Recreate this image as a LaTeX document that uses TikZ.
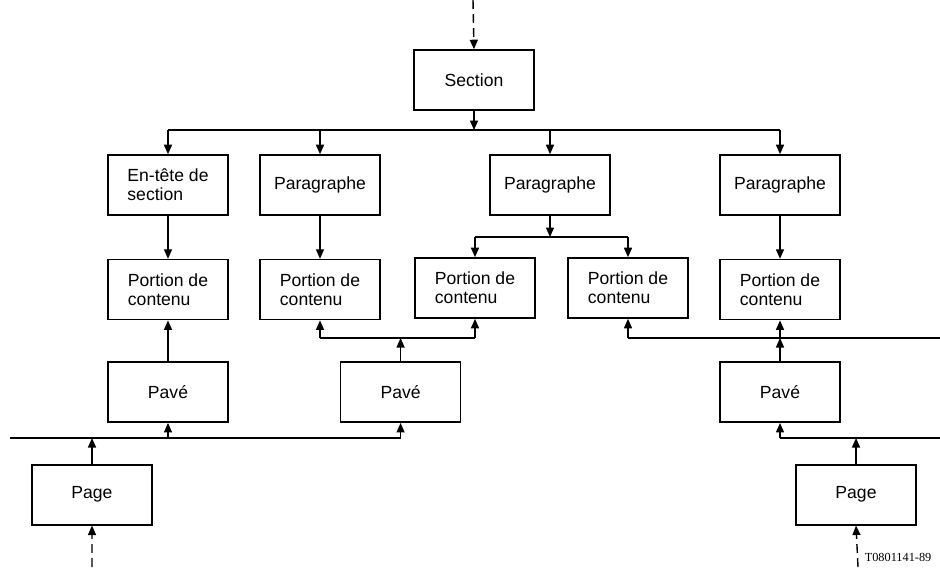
\documentclass[tikz,border=0pt]{standalone}
\usepackage{fontspec}
\setmainfont{Liberation Sans}
\newfontfamily\codefont{Liberation Serif}
\usetikzlibrary{arrows.meta, positioning}

\begin{document}
\begin{tikzpicture}[
    >={Triangle[length=1.9mm, width=1.6mm]},
    bloc/.style={
        rectangle,
        draw=black,
        line width=0.9pt,
        minimum width=2.4cm,
        minimum height=1.2cm,
        align=left,
        inner sep=2pt,
        font=\fontsize{10}{11}\selectfont
    },
    arrow/.style={
        ->,
        line width=0.8pt
    },
    bus/.style={
        line width=0.8pt
    },
    ext/.style={
        ->,
        line width=0.8pt,
        dash pattern=on 5pt off 3pt
    }
]
\useasboundingbox (0,0) rectangle (18.8,-11.34);

% Niveau 1: Section
\node[bloc] (section) at (9.48,-1.6) {Section};

% Niveau 2: en-tete et paragraphes
\node[bloc] (entete) at (3.36,-3.7) {En-tête de\\section};
\node[bloc] (para1) at (6.4,-3.7) {Paragraphe};
\node[bloc] (para2) at (11.0,-3.7) {Paragraphe};
\node[bloc] (para3) at (15.6,-3.7) {Paragraphe};

% Niveau 3: portions de contenu
\node[bloc, below=0.86cm of entete] (pc1) {Portion de\\contenu};
\node[bloc, below=0.86cm of para1] (pc2) {Portion de\\contenu};
\node[bloc] (pc3) at (9.5,-5.76) {Portion de\\contenu};
\node[bloc] (pc4) at (12.56,-5.76) {Portion de\\contenu};
\node[bloc, below=0.86cm of para3] (pc5) {Portion de\\contenu};

% Niveau 4: paves
\node[bloc, below=0.82cm of pc1] (pave1) {Pavé};
\node[bloc, right=2.22cm of pave1] (pave2) {Pavé};
\node[bloc, below=0.82cm of pc5] (pave3) {Pavé};

% Niveau 5: pages
\node[bloc, below=0.82cm of pave1, xshift=-1.52cm] (page1) {Page};
\node[bloc, below=0.82cm of pave3, xshift=1.52cm] (page2) {Page};

% Repere
\node[font=\codefont\fontsize{7}{8}\selectfont, anchor=east] (ref) at (18.75,-11.14) {T0801141-89};

% Bus et bords
\coordinate (bus1) at (0,-2.6);
\coordinate (bus2) at (0,-4.74);
\coordinate (bus3) at (0,-6.76);
\coordinate (bus4) at (0,-8.76);
\coordinate (entree) at (9.46,0);
\coordinate (bord3) at (18.8,-6.76);
\coordinate (bord4g) at (0.2,-8.76);
\coordinate (bord4d) at (18.8,-8.76);
\coordinate (sortie1) at (1.84,-11.34);
\coordinate (sortie2) at (17.16,-11.34);

% Section vers niveau 2
\draw[ext] (entree) -- (section.north);
\draw[arrow] (section) -- (section |- bus1);
\draw[bus] (bus1 -| entete) -- (bus1 -| para3);
\foreach \n in {entete, para1, para2, para3}
    \draw[arrow] (bus1 -| \n) -- (\n);

% Niveau 2 vers portions
\draw[arrow] (entete) -- (pc1);
\draw[arrow] (para1) -- (pc2);
\draw[arrow] (para3) -- (pc5);
\draw[arrow] (para2) -- (para2 |- bus2);
\draw[bus] (bus2 -| pc3) -- (bus2 -| pc4);
\foreach \n in {pc3, pc4}
    \draw[arrow] (bus2 -| \n) -- (\n);

% Paves vers portions
\draw[arrow] (pave1) -- (pc1);
\draw[arrow] (pave2) -- (pave2 |- bus3);
\draw[bus] (bus3 -| pc2) -- (bus3 -| pc3);
\foreach \n in {pc2, pc3}
    \draw[arrow] (bus3 -| \n) -- (\n);
\draw[arrow] (pave3) -- (pave3 |- bus3);
\draw[bus] (bus3 -| pc4) -- (bord3);
\foreach \n in {pc4, pc5}
    \draw[arrow] (bus3 -| \n) -- (\n);

% Pages vers paves
\draw[bus] (bord4g) -- (bus4 -| pave2);
\draw[arrow] (page1) -- (page1 |- bus4);
\foreach \n in {pave1, pave2}
    \draw[arrow] (bus4 -| \n) -- (\n);
\draw[bus] (bus4 -| pave3) -- (bord4d);
\draw[arrow] (page2) -- (page2 |- bus4);
\draw[arrow] (bus4 -| pave3) -- (pave3);

% Entrees des pages
\draw[ext] (sortie1) -- (page1.south);
\draw[ext] (sortie2) -- (page2.south);

\end{tikzpicture}
\end{document}
